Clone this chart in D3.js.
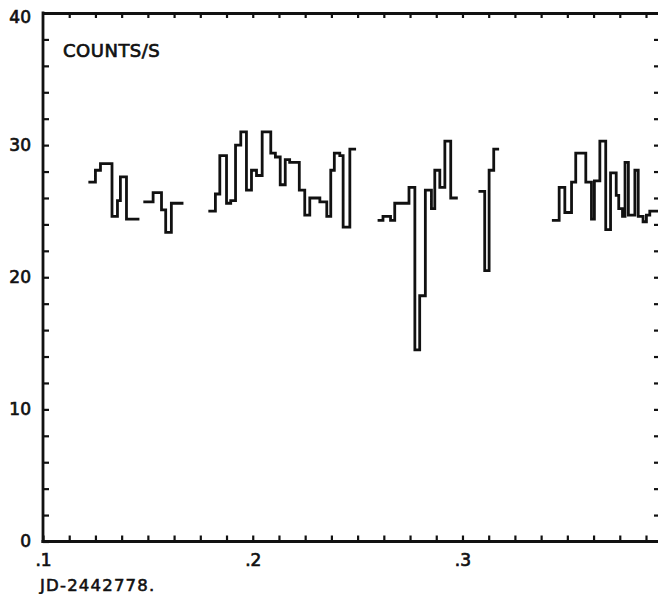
<!DOCTYPE html>
<html>
<head>
<meta charset="utf-8">
<script src="https://cdn.jsdelivr.net/npm/d3@7"></script>
<style>
	html, body { margin: 0; padding: 0; background: #fff; }
	svg { display: block; }
	text { font-family: "DejaVu Sans", sans-serif; fill: #111; }
</style>
</head>
<body>
<svg id="lyskurve" width="658" height="594"></svg>
<script>
// bin edges (JD - 2442778.) and rates (counts/s) for each run of data
var edges1 = [0.1223, 0.1250, 0.1274, 0.1329, 0.1355, 0.1369, 0.1398, 0.1453],
	rates1 = [27.2, 28.1, 28.6, 24.6, 25.8, 27.6, 24.4];

var edges2 = [0.1485, 0.1525, 0.1565, 0.1585, 0.1612, 0.1663],
	rates2 = [25.7, 26.4, 25.1, 23.4, 25.6];

var edges3 = [0.1795, 0.1822, 0.1843, 0.1875, 0.1895, 0.1918, 0.1943, 0.1970, 0.1994, 0.2018,
		0.2045, 0.2086, 0.2108, 0.2131, 0.2155, 0.2176, 0.2222, 0.2248, 0.2272, 0.2320,
		0.2353, 0.2372, 0.2389, 0.2415, 0.2431, 0.2463, 0.2486],
	rates3 = [25.0, 26.3, 29.2, 25.6, 25.8, 30.0, 31.0, 26.6, 28.1, 27.7,
		31.0, 29.4, 29.1, 27.0, 28.9, 28.7, 26.6, 24.7, 26.0, 25.7,
		24.6, 28.1, 29.4, 29.2, 23.8, 29.7];

var edges4 = [0.2602, 0.2621, 0.2657, 0.2677, 0.2745, 0.2773, 0.2796, 0.2823, 0.2852, 0.2868,
		0.2892, 0.2916, 0.2944, 0.2971],
	rates4 = [24.3, 24.6, 24.3, 25.6, 26.8, 14.5, 18.6, 26.6, 25.2, 28.1,
		26.8, 30.3, 26.0];

var edges5 = [0.3083, 0.3106, 0.3127, 0.3149, 0.3168],
	rates5 = [26.5, 20.5, 28.1, 29.7];

var edges6 = [0.3433, 0.3461, 0.3488, 0.3520, 0.3540, 0.3588, 0.3615, 0.3629, 0.3655, 0.3683,
		0.3706, 0.3733, 0.3745, 0.3763, 0.3775, 0.3791, 0.3822, 0.3838, 0.3861, 0.3877,
		0.3893, 0.3941],
	rates6 = [24.3, 26.8, 24.9, 27.2, 29.4, 27.2, 24.4, 27.3, 30.3, 23.6,
		27.9, 26.2, 25.2, 24.6, 28.7, 24.7, 28.1, 24.6, 24.2, 24.7,
		25.0];

var xDomain = [0.1, 0.3937],
	yDomain = [0, 40],
	xMinorTicks = d3.range(0.1, 0.39, 0.0125),
	xLabelValues = [0.1, 0.2, 0.3],
	xLabels = ['.1', '.2', '.3'],
	yMinorTicks = d3.range(0, 41, 2),
	yLabelValues = [0, 10, 20, 30, 40],
	yLabels = ['0', '10', '20', '30', '40'],
	yTitle = 'COUNTS/S',
	xTitle = 'JD-2442778.';

(function() {

	var left = 43,
		right = 659,
		top = 13,
		bottom = 541.5;

	var svg = d3.select('#lyskurve');

	var x = d3.scaleLinear().domain(xDomain).range([left, right]),
		y = d3.scaleLinear().domain(yDomain).range([bottom, top]);

	var near = function(a, b) { return Math.abs(a - b) < 1e-6; };
	var xFormat = function(d) {
		var i = xLabelValues.findIndex(function(v) { return near(v, d); });
		return i < 0 ? '' : xLabels[i];
	};
	var yFormat = function(d) {
		var i = yLabelValues.findIndex(function(v) { return near(v, d); });
		return i < 0 ? '' : yLabels[i];
	};

	// akser: alle tick-merker peker innover
	var bunn = svg.append('g')
		.attr('transform', 'translate(0,' + bottom + ')')
		.call(d3.axisBottom(x).tickValues(xMinorTicks).tickFormat(xFormat)
			.tickSize(-6).tickSizeOuter(0).tickPadding(12));

	var topp = svg.append('g')
		.attr('transform', 'translate(0,' + top + ')')
		.call(d3.axisTop(x).tickValues(xMinorTicks.slice(1)).tickFormat('')
			.tickSize(-5).tickSizeOuter(0));

	var venstre = svg.append('g')
		.attr('transform', 'translate(' + left + ',0)')
		.call(d3.axisLeft(y).tickValues(yMinorTicks).tickFormat(yFormat)
			.tickSize(-6).tickSizeOuter(0).tickPadding(12));

	var hoyre = svg.append('g')
		.attr('transform', 'translate(' + right + ',0)')
		.call(d3.axisRight(y).tickValues(yMinorTicks.slice(1, -1)).tickFormat('')
			.tickSize(-5).tickSizeOuter(0));

	[bunn, topp, venstre, hoyre].forEach(function(g) {
		g.select('.domain').attr('stroke', '#111').attr('stroke-width', 2.8);
		g.selectAll('.tick line').attr('stroke', '#111').attr('stroke-width', 2.2);
		g.selectAll('.tick text')
			.attr('font-size', 17)
			.attr('font-family', '"DejaVu Sans", sans-serif')
			.attr('fill', '#111')
			.attr('stroke', '#111')
			.attr('stroke-width', 0.7);
	});
	bunn.select('.domain').attr('d', 'M' + (left - 1.5) + ',0H' + right);
	venstre.select('.domain').attr('d', 'M0,' + (top - 1.4) + 'V' + (bottom + 1.4));
	// øverste tall sitter litt lavere enn streken
	venstre.selectAll('.tick text').filter(function(d) { return d === 40; }).attr('y', 4);

	svg.append('text')
		.attr('x', 63)
		.attr('y', 57)
		.attr('font-size', 18)
		.attr('letter-spacing', 0.5)
		.attr('stroke', '#111')
		.attr('stroke-width', 0.7)
		.text(yTitle);

	svg.append('text')
		.attr('x', 40)
		.attr('y', 591)
		.attr('font-size', 16.5)
		.attr('letter-spacing', 1.2)
		.attr('stroke', '#111')
		.attr('stroke-width', 0.6)
		.text(xTitle);

	// trappekurve for hver datarekke
	var runs = [
		[edges1, rates1], [edges2, rates2], [edges3, rates3],
		[edges4, rates4], [edges5, rates5], [edges6, rates6]
	];

	var trapp = d3.line()
		.x(function(d) { return x(d.t); })
		.y(function(d) { return y(d.v); })
		.curve(d3.curveStepAfter);

	svg.append('clipPath').attr('id', 'plotclip')
		.append('rect')
			.attr('x', left).attr('y', top)
			.attr('width', right - left).attr('height', bottom - top);

	svg.append('g')
		.attr('clip-path', 'url(#plotclip)')
		.selectAll('path')
		.data(runs.map(function(r) {
			var e = r[0], v = r[1];
			var pts = v.map(function(val, i) { return { t: e[i], v: val }; });
			pts.push({ t: e[e.length - 1], v: v[v.length - 1] });
			return pts;
		}))
		.enter()
		.append('path')
			.attr('d', trapp)
			.attr('fill', 'none')
			.attr('stroke', '#111')
			.attr('stroke-width', 2.8)
			.attr('stroke-linejoin', 'miter')
			.attr('stroke-linecap', 'square');

})();
</script>
</body>
</html>
